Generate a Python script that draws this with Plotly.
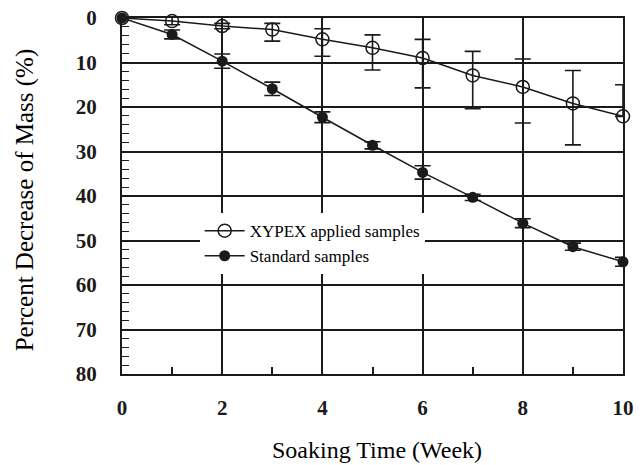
import plotly.graph_objects as go

# === Data ===
weeks = [0, 1, 2, 3, 4, 5, 6, 7, 8, 9, 10]

xypex = [0, 0.7, 1.8, 2.6, 4.8, 6.7, 9.0, 12.9, 15.5, 19.2, 22.1]
xypex_err_lo = [0, 1.3, 0.6, 1.4, 2.4, 2.9, 4.2, 5.4, 6.3, 7.4, 7.1]   # towards smaller values (up)
xypex_err_hi = [0, 0.8, 0.6, 2.6, 3.8, 5.0, 6.7, 7.5, 8.1, 9.3, 0]     # towards larger values (down)

standard = [0, 3.7, 9.7, 15.9, 22.3, 28.6, 34.7, 40.3, 46.1, 51.4, 54.8]
standard_err = [0, 1.0, 1.6, 1.5, 1.2, 0.8, 1.5, 0.7, 1.0, 0.8, 1.0]

x_ticks = [0, 2, 4, 6, 8, 10]
y_ticks = [0, 10, 20, 30, 40, 50, 60, 70, 80]

INK = "#1a1a1a"
SERIF = "Liberation Serif, Times New Roman, serif"

fig = go.Figure()

fig.add_trace(go.Scatter(
    x=weeks, y=xypex,
    mode="lines+markers",
    name="XYPEX applied samples",
    line=dict(color=INK, width=1.5),
    marker=dict(symbol="circle-open", size=13, color=INK, line=dict(width=1.5)),
    error_y=dict(type="data", symmetric=False, array=xypex_err_hi, arrayminus=xypex_err_lo,
                 color=INK, thickness=1.6, width=8),
    cliponaxis=False,
))

fig.add_trace(go.Scatter(
    x=weeks, y=standard,
    mode="lines+markers",
    name="Standard samples",
    line=dict(color=INK, width=1.5),
    marker=dict(symbol="circle", size=11, color=INK),
    error_y=dict(type="data", array=standard_err, color=INK, thickness=1.6, width=8),
    cliponaxis=False,
))

fig.update_xaxes(
    range=[0, 10], tickvals=x_ticks, automargin=False,
    showline=True, linecolor=INK, linewidth=2, mirror=True,
    showgrid=True, gridcolor=INK, gridwidth=1.5,
    ticks="inside", ticklen=7, tickcolor=INK, tickwidth=1.5,
    minor=dict(ticks="inside", dtick=1, ticklen=7, tickcolor=INK, tickwidth=1.5, showgrid=False),
    tickfont=dict(family=SERIF, size=21, color=INK, weight="bold"),
    ticklabelstandoff=14, ticklabeloverflow="allow",
    zeroline=False,
)

fig.update_yaxes(
    range=[80, 0], tickvals=y_ticks, automargin=False,
    showline=True, linecolor=INK, linewidth=2, mirror=True,
    showgrid=True, gridcolor=INK, gridwidth=1.5,
    ticks="inside", ticklen=7, tickcolor=INK, tickwidth=1.5,
    minor=dict(ticks="inside", dtick=2, ticklen=7, tickcolor=INK, tickwidth=1.2, showgrid=False),
    tickfont=dict(family=SERIF, size=21, color=INK, weight="bold"),
    ticklabelstandoff=19, ticklabeloverflow="allow",
    zeroline=False,
)

fig.add_annotation(
    text="Soaking Time (Week)", xref="paper", yref="paper",
    x=0.509, y=-0.214, xanchor="center", yanchor="middle", showarrow=False,
    font=dict(family=SERIF, size=24, color="black"),
)
fig.add_annotation(
    text="Percent Decrease of Mass (%)", xref="paper", yref="paper",
    x=-0.194, y=0.49, xanchor="center", yanchor="middle", textangle=-90, showarrow=False,
    font=dict(family=SERIF, size=25, color="black"),
)

# the page body adds an 8px margin, so the figure is 8px smaller and shifted
fig.update_layout(
    width=634, height=457,
    margin=dict(l=114, r=19, t=10, b=91),
    paper_bgcolor="white", plot_bgcolor="white",
    showlegend=True,
    legend=dict(
        x=0.155, y=0.452, xanchor="left", yanchor="top",
        bgcolor="white", borderwidth=0,
        font=dict(family=SERIF, size=17, color="black"),
        itemwidth=40, tracegroupgap=0,
    ),
)

fig.write_html("out.html")
